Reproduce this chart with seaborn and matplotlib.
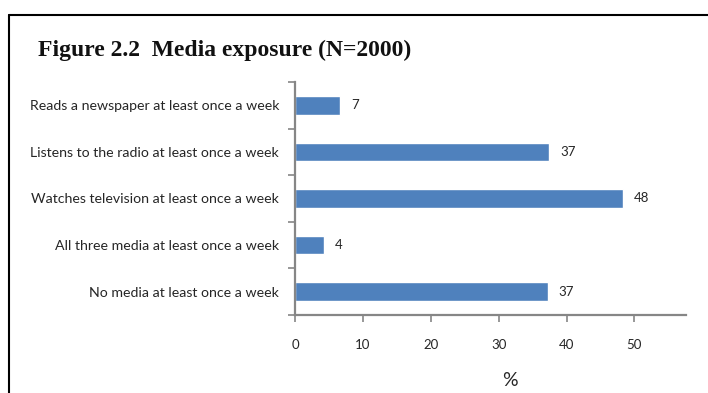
import matplotlib
matplotlib.use("Agg")
import matplotlib.pyplot as plt
from matplotlib.lines import Line2D
import seaborn as sns
import pandas as pd

categories = [
    "Reads a newspaper at least once a week",
    "Listens to the radio at least once a week",
    "Watches television at least once a week",
    "All three media at least once a week",
    "No media at least once a week",
]
values = [6.6, 37.4, 48.3, 4.2, 37.2]
labels = ["7", "37", "48", "4", "37"]
x_ticks = [0, 10, 20, 30, 40, 50]

df = pd.DataFrame({"category": categories, "value": values})

sns.set_theme(style="white")
plt.rcParams["font.family"] = ["Lato", "DejaVu Sans"]

W, H = 708, 393
fig = plt.figure(figsize=(W / 100, H / 100), dpi=100)
ax = fig.add_axes([295 / W, 1 - 315 / H, (686 - 295) / W, (315 - 82) / H])

sns.barplot(data=df, x="value", y="category", orient="h", color="#4F81BD",
            width=0.4, saturation=1, ax=ax)

axis_col = "#868686"
text_col = "#262626"
ax.set_xlim(0, 57.6)
ax.set_ylim(4.5, -0.5)

for s in ["top", "right"]:
    ax.spines[s].set_visible(False)
for s in ["left", "bottom"]:
    ax.spines[s].set_color(axis_col)
    ax.spines[s].set_linewidth(1.6)

# y ticks at category boundaries, labels at centers
ax.set_yticks([i - 0.5 for i in range(len(categories) + 1)])
ax.set_yticklabels([])
ax.set_yticks(range(len(categories)), minor=True)
ax.set_yticklabels(categories, minor=True, fontsize=10.2, color=text_col)
ax.tick_params(axis="y", which="major", length=5, width=1.2, color=axis_col, direction="out", left=True)
ax.tick_params(axis="y", which="minor", length=0, pad=11.5)

ax.set_xticks(x_ticks)
ax.set_xticklabels([str(t) for t in x_ticks], fontsize=9.5, color=text_col)
ax.tick_params(axis="x", length=5, width=1.2, color=axis_col, direction="out", bottom=True, pad=12)

ax.set_ylabel("")
ax.set_xlabel("%", fontsize=14, color=text_col)
ax.xaxis.set_label_coords((510 - 295) / (686 - 295), -(380 - 315) / (315 - 82), transform=ax.transAxes)
ax.xaxis.label.set_verticalalignment("center")

ax.bar_label(ax.containers[0], labels=labels, padding=8, fontsize=9.5, color=text_col)

fig.text(38 / W, 1 - 50 / H, "Figure 2.2  Media exposure (N=2000)", fontsize=17,
         fontweight="bold", family=["Liberation Serif", "DejaVu Serif"],
         va="center", ha="left", color="#111111")

fig.add_artist(Line2D([9 / W, 1.0], [1 - 15 / H, 1 - 15 / H], transform=fig.transFigure,
                      color="black", lw=1.5))
fig.add_artist(Line2D([9 / W, 9 / W], [1 - 15 / H, 0.0], transform=fig.transFigure,
                      color="black", lw=1.5))

fig.savefig("out.png", dpi=100)
